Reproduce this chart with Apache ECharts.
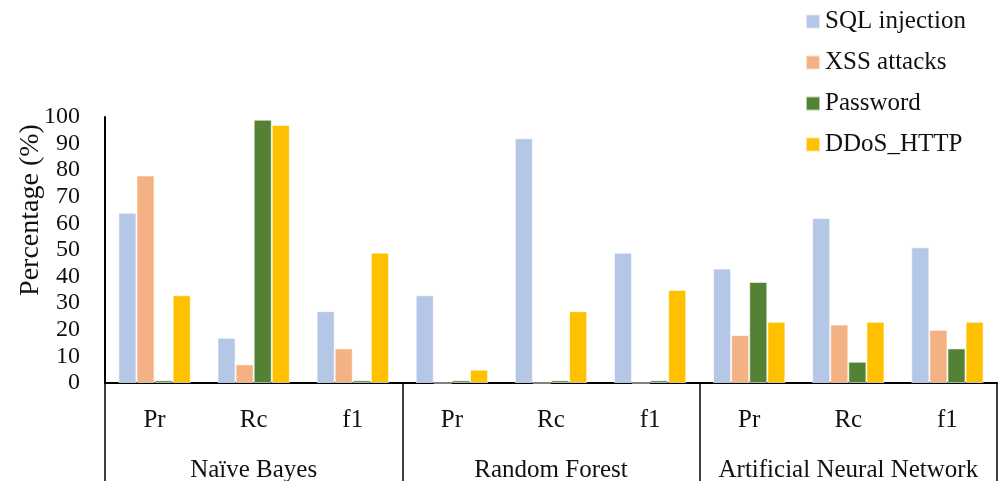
<!DOCTYPE html>
<html>
<head>
<meta charset="utf-8">
<script src="https://cdn.jsdelivr.net/npm/echarts@6/dist/echarts.min.js"></script>
<style>
  html, body { margin: 0; padding: 0; background: #fff; }
  #chart { width: 998px; height: 481px; }
</style>
</head>
<body>
<div id="chart"></div>
<script>
// Metric labels for each model group and the model names beneath them
const metrics = ['Pr', 'Rc', 'f1', 'Pr', 'Rc', 'f1', 'Pr', 'Rc', 'f1'];
const models = ['Naïve Bayes', 'Random Forest', 'Artificial Neural Network'];
const yTicks = [0, 10, 20, 30, 40, 50, 60, 70, 80, 90, 100];

// Scores (%) per attack type, in the order of `metrics`
const sqlInjection = [64, 17, 27, 33, 92, 49, 43, 62, 51];
const xssAttacks   = [78, 7, 13, 0, 0, 0, 18, 22, 20];
const password     = [1, 99, 1, 1, 1, 1, 38, 8, 13];
const ddosHttp     = [33, 97, 49, 5, 27, 35, 23, 23, 23];

const seriesNames = ['SQL injection', 'XSS attacks', 'Password', 'DDoS_HTTP'];
const seriesData = [sqlInjection, xssAttacks, password, ddosHttp];
const colors = ['#B4C7E7', '#F4B183', '#548235', '#FFC000'];

const font = '"Liberation Serif", "DejaVu Serif", serif';

const chart = echarts.init(document.getElementById('chart'));
chart.setOption({
  animation: false,
  textStyle: { fontFamily: font },
  grid: { left: 105, right: 1, top: 117, bottom: 98, containLabel: false, outerBoundsMode: 'none' },
  legend: {
    orient: 'vertical',
    left: 805,
    top: 9,
    padding: 0,
    itemWidth: 14,
    itemHeight: 14,
    itemGap: 16,
    icon: 'rect',
    textStyle: { fontFamily: font, fontSize: 25, lineHeight: 25, color: '#111' },
    data: seriesNames
  },
  xAxis: [
    {
      type: 'category',
      data: metrics,
      position: 'bottom',
      axisLine: { lineStyle: { color: '#000', width: 2 } },
      axisTick: { show: false },
      axisLabel: { color: '#111', fontSize: 25, margin: 25, interval: 0, fontFamily: font }
    },
    {
      type: 'category',
      data: models,
      position: 'bottom',
      axisLine: { show: false },
      axisTick: { show: true, interval: 0, length: 100, lineStyle: { color: '#000', width: 1.5 } },
      axisLabel: { color: '#111', fontSize: 25, margin: 75, interval: 0, fontFamily: font },
      splitLine: { show: false }
    }
  ],
  yAxis: {
    type: 'value',
    min: 0,
    max: 100,
    interval: 10,
    name: 'Percentage (%)',
    nameLocation: 'middle',
    nameGap: 60,
    nameMoveOverlap: false,
    nameTextStyle: { fontSize: 28, color: '#111', fontFamily: font, padding: [0, 0, 0, 80] },
    axisLine: { show: true, lineStyle: { color: '#000', width: 2 } },
    axisTick: { show: false },
    axisLabel: { color: '#111', fontSize: 24, margin: 25, fontFamily: font },
    splitLine: { show: false }
  },
  series: seriesNames.map((name, i) => ({
    name,
    type: 'bar',
    xAxisIndex: 0,
    data: seriesData[i],
    barGap: '0%',
    barCategoryGap: '27%',
    itemStyle: { color: colors[i], borderColor: 'rgba(255,255,255,0.6)', borderWidth: 1 }
  }))
});
</script>
</body>
</html>
